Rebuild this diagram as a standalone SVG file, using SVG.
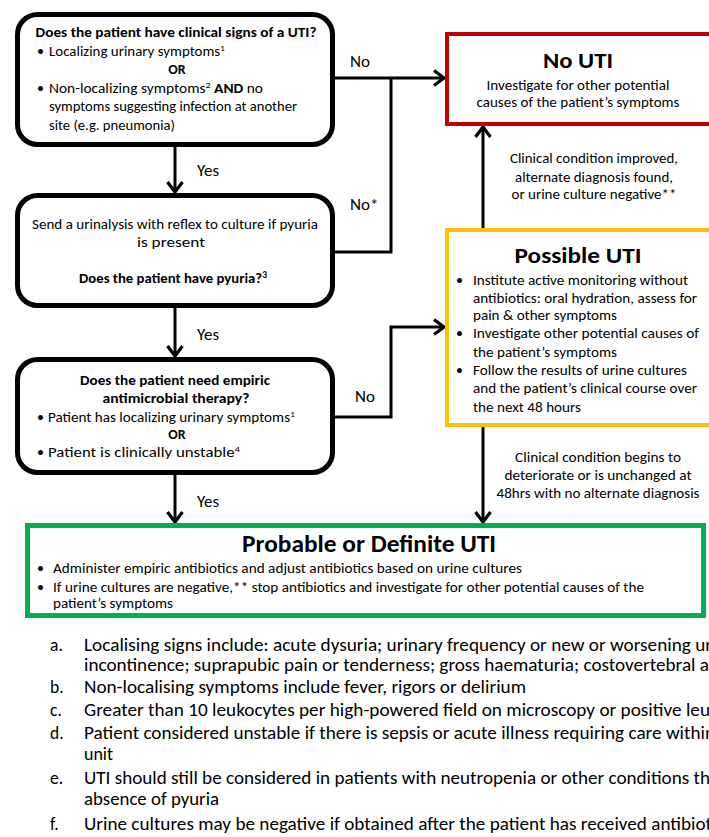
<svg xmlns="http://www.w3.org/2000/svg" width="709" height="837" viewBox="0 0 709 837">
<style>
svg{font-family:Carlito,Lato,"Liberation Sans",sans-serif;font-size:14px}
text{fill:#000}
.b{font-weight:bold}
.m{text-anchor:middle}
.lbl{font-size:17px}
.h{font-size:23px;font-weight:bold}
.h2{font-size:25px;font-weight:bold}
.fn{font-size:17.5px}
.box{fill:#fff;stroke:#000;stroke-width:5}
.conn{fill:none;stroke:#000;stroke-width:3}
</style>
<defs>
<marker id="ah" markerUnits="userSpaceOnUse" markerWidth="20" markerHeight="20" viewBox="0 0 20 20" refX="14" refY="10" orient="auto">
<path d="M4,2.5 L14,10 L4,17.5" fill="none" stroke="#000" stroke-width="3.2"/>
</marker>
</defs>
<rect width="709" height="837" fill="#fff"/>

<g id="connectors">
<line class="conn" x1="175" y1="147" x2="175" y2="192" marker-end="url(#ah)"/>
<line class="conn" x1="175" y1="308" x2="175" y2="356" marker-end="url(#ah)"/>
<line class="conn" x1="175" y1="475" x2="175" y2="522" marker-end="url(#ah)"/>
<line class="conn" x1="335" y1="78" x2="444" y2="78" marker-end="url(#ah)"/>
<polyline class="conn" points="335,252 391,252 391,78"/>
<polyline class="conn" points="335,417 391,417 391,327 444,327" marker-end="url(#ah)"/>
<line class="conn" x1="483" y1="228" x2="483" y2="127" marker-end="url(#ah)"/>
<line class="conn" x1="483" y1="427" x2="483" y2="522" marker-end="url(#ah)"/>
<text class="lbl" x="350" y="67">No</text>
<text class="lbl" x="350" y="210">No*</text>
<text class="lbl" x="197" y="176">Yes</text>
<text class="lbl" x="197" y="340">Yes</text>
<text class="lbl" x="197" y="507">Yes</text>
<text class="lbl" x="355" y="402">No</text>
<text class="m" x="594" y="163" textLength="168" lengthAdjust="spacingAndGlyphs">Clinical condition improved,</text>
<text class="m" x="594" y="182" textLength="158" lengthAdjust="spacingAndGlyphs">alternate diagnosis found,</text>
<text class="m" x="594" y="199" textLength="165" lengthAdjust="spacingAndGlyphs">or urine culture negative**</text>
<text class="m" x="598" y="462" textLength="166" lengthAdjust="spacingAndGlyphs">Clinical condition begins to</text>
<text class="m" x="598" y="480" textLength="187" lengthAdjust="spacingAndGlyphs">deteriorate or is unchanged at</text>
<text class="m" x="598" y="498" textLength="203" lengthAdjust="spacingAndGlyphs">48hrs with no alternate diagnosis</text>
</g>

<g id="q1">
<rect class="box" x="17.5" y="14.5" width="315" height="130" rx="20"/>
<text class="b m" x="176" y="37" textLength="281" lengthAdjust="spacingAndGlyphs">Does the patient have clinical signs of a UTI?</text>
<text x="37" y="56">•</text>
<text x="49" y="56" textLength="176" lengthAdjust="spacingAndGlyphs">Localizing urinary symptoms<tspan font-size="9" dy="-5">1</tspan></text>
<text class="b m" x="177" y="74">OR</text>
<text x="37" y="93">•</text>
<text x="49" y="93" textLength="214" lengthAdjust="spacingAndGlyphs">Non-localizing symptoms<tspan font-size="9" dy="-5">2</tspan><tspan dy="5"> </tspan><tspan class="b">AND</tspan> no</text>
<text x="49" y="111" textLength="248" lengthAdjust="spacingAndGlyphs">symptoms suggesting infection at another</text>
<text x="49" y="130" textLength="126" lengthAdjust="spacingAndGlyphs">site (e.g. pneumonia)</text>
</g>

<g id="q2">
<rect class="box" x="17.5" y="195.5" width="315" height="110" rx="20"/>
<text class="m" x="175" y="229" textLength="286" lengthAdjust="spacingAndGlyphs">Send a urinalysis with reflex to culture if pyuria</text>
<text class="m" x="171" y="247" textLength="68" lengthAdjust="spacingAndGlyphs">is present</text>
<text class="b m" x="173" y="283" textLength="188" lengthAdjust="spacingAndGlyphs">Does the patient have pyuria?<tspan font-size="9" dy="-5">3</tspan></text>
</g>

<g id="q3">
<rect class="box" x="17.5" y="359.5" width="315" height="113" rx="20"/>
<text class="b m" x="175" y="385" textLength="190" lengthAdjust="spacingAndGlyphs">Does the patient need empiric</text>
<text class="b m" x="176" y="403" textLength="147" lengthAdjust="spacingAndGlyphs">antimicrobial therapy?</text>
<text x="37" y="422">•</text>
<text x="48" y="422" textLength="247" lengthAdjust="spacingAndGlyphs">Patient has localizing urinary symptoms<tspan font-size="9" dy="-5">1</tspan></text>
<text class="b m" x="177" y="439">OR</text>
<text x="37" y="457">•</text>
<text x="48" y="457" textLength="192" lengthAdjust="spacingAndGlyphs">Patient is clinically unstable<tspan font-size="9" dy="-5">4</tspan></text>
</g>

<g id="no-uti">
<rect x="447" y="34" width="300" height="90" fill="#fff" stroke="#C00000" stroke-width="4"/>
<text class="h m" x="578" y="68" textLength="70" lengthAdjust="spacingAndGlyphs">No UTI</text>
<text class="m" x="578" y="90" textLength="183" lengthAdjust="spacingAndGlyphs">Investigate for other potential</text>
<text class="m" x="578" y="107" textLength="203" lengthAdjust="spacingAndGlyphs">causes of the patient’s symptoms</text>
</g>

<g id="possible-uti">
<rect x="447" y="230" width="300" height="195" fill="#fff" stroke="#FFC000" stroke-width="4"/>
<text class="h m" x="578" y="263" textLength="127" lengthAdjust="spacingAndGlyphs">Possible UTI</text>
<text x="456" y="285">•</text>
<text x="473" y="285" textLength="215" lengthAdjust="spacingAndGlyphs">Institute active monitoring without</text>
<text x="473" y="303" textLength="224" lengthAdjust="spacingAndGlyphs">antibiotics: oral hydration, assess for</text>
<text x="473" y="320" textLength="144" lengthAdjust="spacingAndGlyphs">pain &amp; other symptoms</text>
<text x="456" y="338">•</text>
<text x="473" y="338" textLength="226" lengthAdjust="spacingAndGlyphs">Investigate  other potential causes of</text>
<text x="473" y="357" textLength="144" lengthAdjust="spacingAndGlyphs">the patient’s symptoms</text>
<text x="456" y="375">•</text>
<text x="473" y="375" textLength="214" lengthAdjust="spacingAndGlyphs">Follow the results of urine cultures</text>
<text x="473" y="393" textLength="224" lengthAdjust="spacingAndGlyphs">and the patient’s clinical course over</text>
<text x="473" y="412" textLength="108" lengthAdjust="spacingAndGlyphs">the next 48 hours</text>
</g>

<g id="probable-uti">
<rect x="27.5" y="525.5" width="676" height="90" fill="#fff" stroke="#00B050" stroke-width="5"/>
<text class="h2 m" x="369" y="552" textLength="254" lengthAdjust="spacingAndGlyphs">Probable or Definite UTI</text>
<text x="37" y="573">•</text>
<text x="53" y="573" textLength="469" lengthAdjust="spacingAndGlyphs">Administer empiric antibiotics and adjust antibiotics based on urine cultures</text>
<text x="37" y="592">•</text>
<text x="53" y="592" textLength="591" lengthAdjust="spacingAndGlyphs">If urine cultures are negative,** stop antibiotics and investigate for other potential causes of the</text>
<text x="53" y="608" textLength="120" lengthAdjust="spacingAndGlyphs">patient’s symptoms</text>
</g>

<g id="footnotes">
<text class="fn" x="50" y="651">a.</text>
<text class="fn" x="84" y="651" textLength="628" lengthAdjust="spacingAndGlyphs">Localising signs include: acute dysuria; urinary frequency or new or worsening ur</text>
<text class="fn" x="84" y="671" textLength="625" lengthAdjust="spacingAndGlyphs">incontinence; suprapubic pain or tenderness; gross haematuria; costovertebral a</text>
<text class="fn" x="50" y="693">b.</text>
<text class="fn" x="84" y="693" textLength="442" lengthAdjust="spacingAndGlyphs">Non-localising symptoms include fever, rigors or delirium</text>
<text class="fn" x="50" y="716">c.</text>
<text class="fn" x="84" y="716" textLength="626" lengthAdjust="spacingAndGlyphs">Greater than 10 leukocytes per high-powered field on microscopy or positive leu</text>
<text class="fn" x="50" y="739">d.</text>
<text class="fn" x="84" y="739" textLength="631" lengthAdjust="spacingAndGlyphs">Patient considered unstable if there is sepsis or acute illness requiring care within</text>
<text class="fn" x="84" y="760" textLength="29" lengthAdjust="spacingAndGlyphs">unit</text>
<text class="fn" x="50" y="784">e.</text>
<text class="fn" x="84" y="784" textLength="626" lengthAdjust="spacingAndGlyphs">UTI should still be considered in patients with neutropenia or other conditions th</text>
<text class="fn" x="84" y="805" textLength="135" lengthAdjust="spacingAndGlyphs">absence of pyuria</text>
<text class="fn" x="50" y="830">f.</text>
<text class="fn" x="84" y="830" textLength="628" lengthAdjust="spacingAndGlyphs">Urine cultures may be negative if obtained after the patient has received antibiot</text>
</g>
</svg>
